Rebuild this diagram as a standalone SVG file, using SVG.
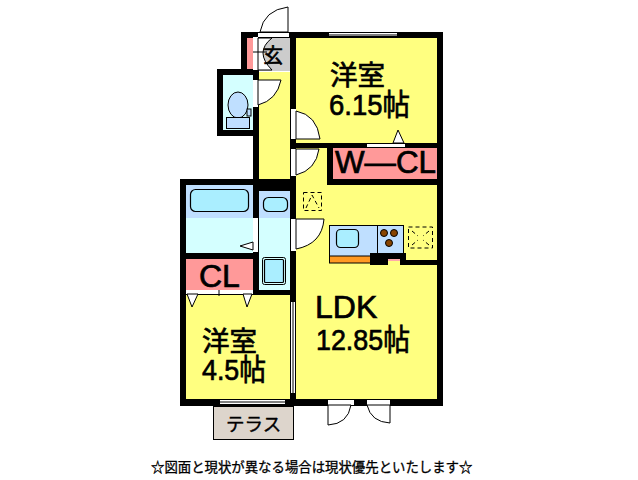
<svg xmlns="http://www.w3.org/2000/svg" width="638" height="480" viewBox="0 0 638 480">
<style>
.t{font-family:"Liberation Sans","Noto Sans CJK JP",sans-serif;fill:#000;stroke:#000;stroke-width:.7}
.l{font-size:30px}
.w{fill:#000}
.s{fill:#fff}
.o{fill:none;stroke:#000;stroke-width:1}
.d{fill:#fff;stroke:#000;stroke-width:1}
.dash{fill:none;stroke:#000;stroke-width:1;stroke-dasharray:4 3}
.b{fill:#bfdfff}
.c{fill:#d4ffff}
.p{fill:#ff9999}
.y{fill:#ffff80}
.u{fill:#aaeeff;stroke:#000;stroke-width:1.2}
</style>
<rect width="638" height="480" fill="#fff"/>
<g id="floors">
<rect class="y" x="296" y="38" width="141" height="105"/>
<rect class="y" x="296" y="143" width="141" height="256"/>
<rect class="y" x="259" y="72" width="31" height="107"/>
<rect class="y" x="186" y="294" width="104" height="105"/>
<rect class="p" x="247" y="38" width="6" height="31"/>
<rect x="258" y="38" width="32" height="33" fill="#cccccc"/>
<rect class="c" x="223" y="75" width="30" height="55"/>
<rect class="b" x="186" y="185" width="67" height="33"/>
<rect class="c" x="186" y="218" width="67" height="35"/>
<rect class="p" x="186" y="259" width="67" height="31"/>
<rect class="b" x="259" y="191" width="31" height="27"/>
<rect class="c" x="259" y="218" width="31" height="72"/>
<rect class="p" x="333" y="148" width="104" height="31"/>
</g>
<g id="walls">
<path class="w" d="M241 32H443V406H180V179H253V136H217V69H241ZM247 38V69H253V75H223V130H253V69H259V179H290V38ZM296 38V143H437V38ZM296 148V399H437V265H406V260H437V185H327V148ZM333 148V179H437V148ZM186 185V253H253V185ZM259 191V290H290V191ZM186 259V290H253V259ZM186 295V399H290V295Z" fill-rule="evenodd"/>
</g>
<g id="connectors">
<rect class="s" x="258" y="33" width="31" height="4"/>
<path class="d" d="M288 32V7Q264 10 260 32Z"/>
<rect class="s" x="253" y="37" width="5" height="33"/>
<path class="d" d="M258 38H272Q254 52 272 70H258Z"/>
<path class="o" d="M253 52H267"/>
<rect class="s" x="253" y="80" width="5" height="27"/>
<path class="d" d="M258 80H281Q277 100 258 105Z"/>
<rect class="s" x="291" y="109" width="5" height="30"/>
<path class="d" d="M296 111Q317 115 320 139H296Z"/>
<rect class="s" x="291" y="149" width="5" height="27"/>
<path class="d" d="M296 149H319Q316 170 296 175Z"/>
<rect class="s" x="291" y="219" width="5" height="32"/>
<path class="d" d="M296 219H324Q322 244 296 249Z"/>
<rect class="s" x="253" y="218" width="5" height="34"/>
<path class="d" d="M240 246L253 242V250Z"/>
<rect class="s" x="186" y="290" width="67" height="4"/>
<path class="o" d="M219 290V296"/>
<path class="d" d="M187 294H198L192 307Z"/>
<path class="d" d="M243 294H252L247 307Z"/>
<rect class="s" x="367" y="144" width="38" height="3"/>
<path class="d" d="M393 143L398 130L404 143Z"/>
<rect class="s" x="329" y="33" width="68" height="3"/>
<path class="o" d="M329 35H397"/>
<rect class="s" x="291" y="302" width="4" height="91"/>
<path class="o" d="M293 302V393"/>
<rect class="s" x="220" y="400" width="65" height="4"/>
<path class="o" d="M220 402H285"/>
<rect class="s" x="328" y="400" width="26" height="5"/>
<path class="d" d="M328 405V425Q348 424 351 405Z"/>
<rect class="s" x="367" y="400" width="23" height="5"/>
<path class="d" d="M390 405V423Q371 422 367 405Z"/>
</g>
<g id="toilet">
<ellipse cx="238" cy="105" rx="10" ry="13" fill="#bfdfff" stroke="#000"/>
<rect x="226.500" y="117.500" width="23" height="11" fill="#bfdfff" stroke="#000"/>
<rect x="247" y="109" width="4" height="7" fill="#bfdfff" stroke="#000"/>
</g>
<g id="bath">
<rect class="u" x="190.500" y="189.500" width="58" height="22" rx="5"/>
<rect class="u" x="263.500" y="197.500" width="24" height="14" rx="5"/>
<rect x="262.500" y="257.500" width="23" height="27" rx="2" fill="#d4ffff" stroke="#000"/>
<rect class="u" x="264.500" y="259.500" width="19" height="23" rx="1"/>
</g>
<g id="kitchen">
<rect x="329.500" y="225.500" width="74" height="37" fill="#bfdfff" stroke="#000"/>
<rect x="329.500" y="256" width="41" height="7" fill="#ff9922" stroke="#000"/>
<path class="o" d="M377.500 225V254"/>
<rect class="u" x="336.500" y="229.500" width="22" height="18" rx="4"/>
<circle cx="384" cy="233" r="3.500" fill="#884400" stroke="#000"/>
<circle cx="394" cy="233" r="3.500" fill="#884400" stroke="#000"/>
<circle cx="389" cy="243" r="3.500" fill="#884400" stroke="#000"/>
<rect class="w" x="370" y="253" width="36" height="6"/>
<rect class="w" x="370" y="259" width="18" height="6"/>
<rect class="w" x="400" y="259" width="6" height="6"/>
<rect x="388" y="259" width="12" height="2" fill="#ffaaaa"/>
<rect x="388" y="261" width="12" height="4" fill="#ffff80"/>
<rect class="dash" x="408.500" y="227" width="24" height="21"/>
<path class="dash" d="M412 231L418 236M429 231L423 236M412 245L418 240M429 245L423 240"/>
<rect class="dash" x="303.500" y="192.500" width="18" height="18"/>
<path class="dash" d="M306 208L312 195L319 208"/>
</g>
<g id="terrace">
<rect x="213.500" y="406.500" width="80" height="33" fill="#ddd5cc" stroke="#000"/>
<text x="226" y="431" font-size="18.500" class="t" style="stroke-width:.4">テラス</text>
</g>
<g id="labels">
<text x="263" y="63" font-size="20" class="t" style="stroke-width:.6">玄</text>
<text class="t"><tspan x="330" y="85" font-size="27.500">洋室</tspan><tspan x="329" y="114.500" class="l" textLength="81" lengthAdjust="spacingAndGlyphs">6.15帖</tspan></text>
<text x="335" y="173" font-size="31" class="t" textLength="101" lengthAdjust="spacingAndGlyphs">W—CL</text>
<text x="199" y="287" font-size="32" class="t">CL</text>
<text class="t"><tspan x="315" y="318" font-size="32">LDK</tspan><tspan x="316" y="350" class="l" textLength="94" lengthAdjust="spacingAndGlyphs">12.85帖</tspan></text>
<text class="t"><tspan x="202" y="351" font-size="27.500">洋室</tspan><tspan x="202" y="380" class="l" textLength="64" lengthAdjust="spacingAndGlyphs">4.5帖</tspan></text>
<text x="151" y="472" font-size="13.400" class="t" style="stroke-width:.3">☆図面と現状が異なる場合は現状優先といたします☆</text>
</g>
</svg>
